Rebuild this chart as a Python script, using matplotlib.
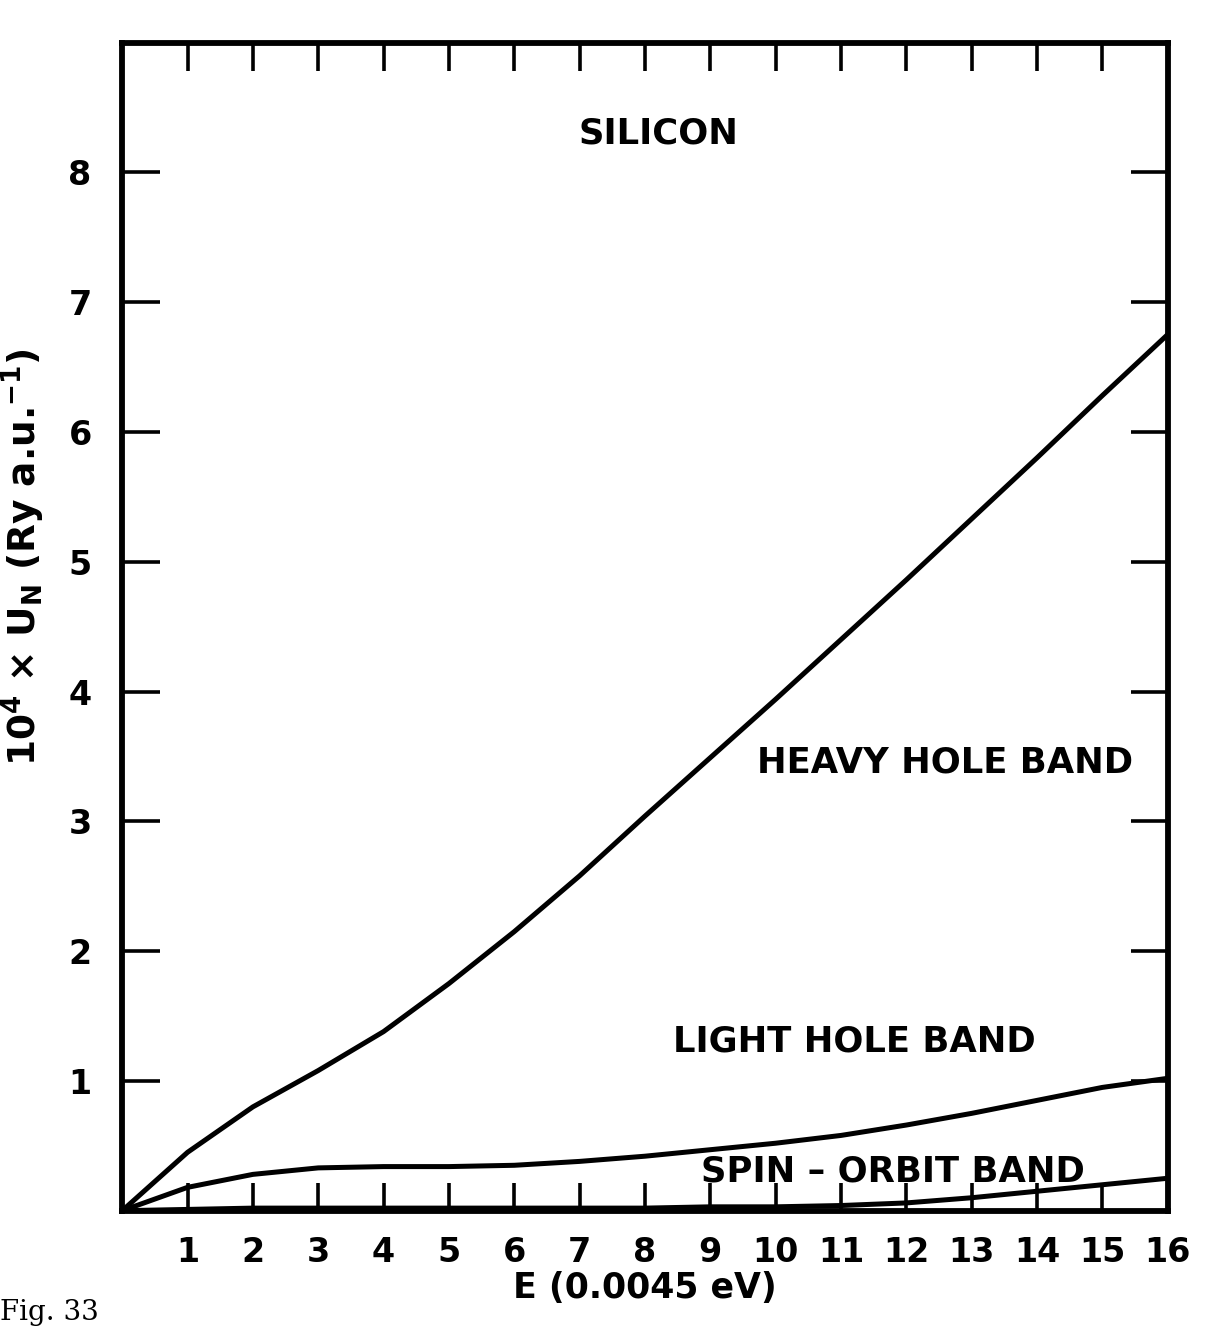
import matplotlib
matplotlib.use("Agg")
import matplotlib.pyplot as plt

# ---- data ----
energy = [0, 1, 2, 3, 4, 5, 6, 7, 8, 9, 10, 11, 12, 13, 14, 15, 16]
heavy_hole = [0, 0.45, 0.80, 1.08, 1.38, 1.75, 2.15, 2.58, 3.04, 3.49,
              3.94, 4.40, 4.86, 5.33, 5.80, 6.28, 6.75]
light_hole = [0, 0.18, 0.28, 0.33, 0.34, 0.34, 0.35, 0.38, 0.42, 0.47,
              0.52, 0.58, 0.66, 0.75, 0.85, 0.95, 1.02]
spin_orbit = [0, 0.01, 0.02, 0.02, 0.02, 0.02, 0.02, 0.02, 0.02, 0.03,
              0.03, 0.04, 0.06, 0.10, 0.15, 0.20, 0.25]

x_ticklabels = [str(v) for v in range(1, 17)]
y_ticks = [1, 2, 3, 4, 5, 6, 7, 8]
y_ticklabels = [str(v) for v in y_ticks]

labels = {"SILICON": (8.2, 8.3),
          "HEAVY HOLE BAND": (12.6, 3.45),
          "LIGHT HOLE BAND": (11.2, 1.3),
          "SPIN – ORBIT BAND": (11.8, 0.3)}

plt.rcParams['font.family'] = ['DejaVu Sans']
fig = plt.figure(figsize=(12.10, 13.29), dpi=100)
ax = fig.add_axes([0.101, 0.089, 0.864, 0.879])

lw = 3.6
for series in (heavy_hole, light_hole, spin_orbit):
    ax.plot(energy, series, color='black', lw=lw,
            solid_capstyle='round', solid_joinstyle='round')

ax.set_xlim(0, 16)
ax.set_ylim(0, 9)

for s in ax.spines.values():
    s.set_linewidth(4.2)

ax.set_xticks(list(range(1, 17)))
ax.set_xticklabels(x_ticklabels, fontsize=24, fontweight='bold')
ax.set_yticks(y_ticks)
ax.set_yticklabels(y_ticklabels, fontsize=24, fontweight='bold')
ax.tick_params(axis='x', which='major', direction='in', length=20, width=2.6,
               top=True, bottom=True, pad=18)
ax.tick_params(axis='y', which='major', direction='in', length=27, width=2.6,
               left=True, right=True, pad=22)

ax.set_xlabel('E (0.0045 eV)', fontsize=25, fontweight='bold', labelpad=2)
ax.set_ylabel(r'10$^{\mathbf{4}}$ × U$_{\mathbf{N}}$ (Ry a.u.$^{\mathbf{-1}}$)',
              fontsize=27, fontweight='bold')
ax.yaxis.set_label_coords(-0.072, 0.56)

for txt, (tx, ty) in labels.items():
    ax.text(tx, ty, txt, fontsize=25.5, fontweight='bold', ha='center', va='center')

fig.text(0.0, 0.002, 'Fig. 33', fontsize=20, family='DejaVu Serif', ha='left', va='bottom')

fig.savefig('out.png', dpi=100)
